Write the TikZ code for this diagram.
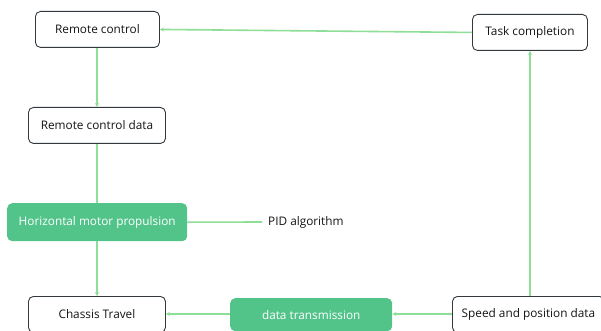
\documentclass[tikz,border=0pt]{standalone}
\usepackage{fontspec}
\setmainfont{Open Sans}
\usetikzlibrary{arrows.meta}
\definecolor{boxgreen}{RGB}{82,196,138}
\definecolor{linegreen}{RGB}{142,222,152}
\definecolor{boxline}{RGB}{50,56,62}
\definecolor{txt}{RGB}{20,20,20}
\tikzset{
  wbox/.style={draw=boxline, line width=0.9pt, rounded corners=5pt, fill=white, text=txt, font=\fontsize{11.8}{14}\selectfont, inner sep=0pt, anchor=north west},
  gbox/.style={draw=none, rounded corners=5pt, fill=boxgreen, text=white, font=\fontsize{11.8}{14}\selectfont, inner sep=0pt, anchor=north west},
  conn/.style={draw=linegreen, line width=1.6pt, -{Stealth[length=4pt,width=4pt]}},
  plain/.style={draw=linegreen, line width=1.6pt},
  lbl/.style={text=txt, font=\fontsize{11.8}{14}\selectfont, inner sep=0pt}
}
\begin{document}
\begin{tikzpicture}[x=1pt,y=-1pt]
\useasboundingbox (0,0) rectangle (601,331);
\clip (0,0) rectangle (601,331);
\node[wbox, minimum width=124pt, minimum height=36pt] (rc) at (35,11) {Remote control};
\node[wbox, minimum width=137pt, minimum height=36pt] (rcd) at (28,107) {Remote control data};
\node[gbox, minimum width=180pt, minimum height=38pt] (hmp) at (7,203) {Horizontal motor propulsion};
\node[lbl, anchor=west] (pid) at (268,222) {PID algorithm};
\node[wbox, minimum width=137pt, minimum height=36pt] (ct) at (28,296) {Chassis Travel};
\node[gbox, minimum width=162pt, minimum height=33pt] (dt) at (230,298) {data transmission};
\node[wbox, minimum width=152pt, minimum height=36pt] (sp) at (452,296) {Speed and position data};
\node[wbox, minimum width=115pt, minimum height=36pt] (tc) at (472,14) {Task completion};
\draw[conn] (rc.south -| 97,0) -- (rcd.north -| 97,0);
\draw[plain] (rcd.south -| 97,0) -- (hmp.north -| 97,0);
\draw[conn] (hmp.south -| 97,0) -- (ct.north -| 97,0);
\draw[plain] (hmp.east) -- ([xshift=-6pt]pid.west);
\draw[conn] (dt.west |- 0,314) -- (ct.east |- 0,314);
\draw[conn] (sp.west |- 0,314) -- (dt.east |- 0,314);
\draw[conn] (sp.north -| 530,0) -- (tc.south -| 530,0);
\draw[conn] (tc.west) -- (rc.east);
\end{tikzpicture}
\end{document}
